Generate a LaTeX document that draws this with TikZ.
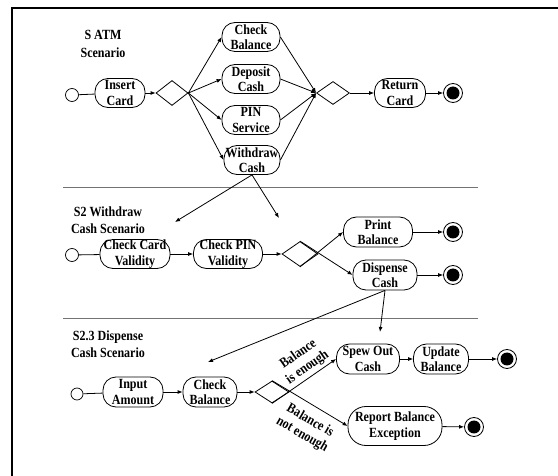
\documentclass[tikz,border=0pt]{standalone}
\usepackage{fontspec}
\newfontfamily\lblfont{Liberation Serif}[FakeStretch=0.86]
\usetikzlibrary{shapes.geometric,arrows.meta}
\begin{document}
\begin{tikzpicture}[x=1pt,y=-1pt,
  every node/.style={font=\lblfont\bfseries\fontsize{14}{15.5}\selectfont, align=center, inner sep=0pt},
  act/.style={draw, line width=0.8pt, rounded corners=13pt, minimum height=29pt},
  dia/.style={draw, line width=0.8pt, diamond},
  startc/.style={draw, line width=0.7pt, circle, minimum size=13pt},
  endc/.style={draw, line width=0.8pt, circle, minimum size=19pt, path picture={\fill (path picture bounding box.center) circle (6.5pt);}},
  ttl/.style={font=\lblfont\bfseries\fontsize{14}{17.5}\selectfont},
  lbl/.style={font=\lblfont\bfseries\fontsize{14}{16}\selectfont},
  flow/.style={line width=0.8pt, -{Latex[length=5pt,width=4pt]}},
  plain/.style={line width=0.8pt},
  sep/.style={draw=black!55, line width=0.8pt}
]
\useasboundingbox (0,0) rectangle (558,476);
\fill[white] (0,0) rectangle (558,476);
\draw[line width=2.5pt] (12,476) -- (12,8) -- (558,8);

% ---------- Section 1 ----------
\node[ttl] (t1) at (103,44) {S ATM\\Scenario};
\node[startc] (s1) at (72,95) {};
\node[act, minimum width=50pt] (insert) at (120,93) {Insert\\Card};
\node[dia, minimum width=32pt, minimum height=25pt] (d1) at (172,93) {};
\node[act, minimum width=58pt] (cb) at (251,37) {Check\\Balance};
\node[act, minimum width=58pt] (dc) at (251,79) {Deposit\\Cash};
\node[act, minimum width=58pt] (ps) at (251,120) {PIN\\Service};
\node[act, minimum width=56pt] (wc) at (252,160) {Withdraw\\Cash};
\node[dia, minimum width=33pt, minimum height=23pt] (d2) at (333,93) {};
\node[act, minimum width=51pt] (rc) at (400,93) {Return\\Card};
\node[endc] (e1) at (453,93) {};

\draw[plain] (s1) -- (insert);
\draw[flow] (insert) -- (d1);
\draw[flow] (d1.east) -- (cb.west);
\draw[flow] (d1.east) -- (dc.west);
\draw[flow] (d1.east) -- (ps.west);
\draw[flow] (d1.east) -- (wc.west);
\draw[flow] (cb.east) -- (d2.west);
\draw[flow] (dc.east) -- (d2.west);
\draw[flow] (ps.east) -- (d2.west);
\draw[flow] (wc.east) -- (d2.west);
\draw[flow] (d2.east) -- (rc.west);
\draw[flow] (rc.east) -- (e1.west);

\draw[sep] (63,187) -- (478,187);
\coordinate (w1) at (175,222);
\coordinate (w2) at (279,218);
\draw[flow] (wc.south) -- (w1);
\draw[flow] (wc.south) -- (w2);

% ---------- Section 2 ----------
\node[ttl] (t2) at (108,220) {S2 Withdraw\\Cash Scenario};
\node[startc] (s2) at (72,255) {};
\node[act, minimum width=70pt] (ccv) at (135,254) {Check Card\\Validity};
\node[act, minimum width=69pt] (cpv) at (228,254) {Check PIN\\Validity};
\node[dia, minimum width=36pt, minimum height=25pt] (d3) at (300,254) {};
\node[act, minimum width=69pt, minimum height=30pt] (pb) at (378,232) {Print\\Balance};
\node[act, minimum width=64pt, minimum height=30pt] (dsc) at (385,275) {Dispense\\Cash};
\node[endc] (e2) at (453,232) {};
\node[endc] (e3) at (453,275) {};

\draw[plain] (s2) -- (ccv);
\draw[flow] (ccv) -- (cpv);
\draw[flow] (cpv) -- (d3);
\draw[flow] (d3.south) -- (pb.west);
\draw[flow] (d3.north) -- (dsc.west);
\draw[flow] (pb) -- (e2);
\draw[flow] (dsc) -- (e3);

\draw[sep] (63,318) -- (478,318);
\coordinate (x1) at (208,362);
\coordinate (x2) at (380,332);
\draw[flow] (dsc.south) -- (x1);
\draw[flow] (dsc.south) -- (x2);

% ---------- Section 3 ----------
\node[ttl] (t3) at (108,344) {S2.3 Dispense\\Cash Scenario};
\node[startc, minimum size=12pt] (s3) at (77,394) {};
\node[act, minimum width=60pt, minimum height=30pt] (ia) at (133,392) {Input\\Amount};
\node[act, minimum width=54pt, minimum height=30pt] (chb) at (210,392) {Check\\Balance};
\node[dia, minimum width=34pt, minimum height=22pt] (d4) at (272,392) {};
\node[act, minimum width=63pt, minimum height=30pt] (soc) at (368,359) {Spew Out\\Cash};
\node[act, minimum width=55pt, minimum height=30pt] (ub) at (441,359) {Update\\Balance};
\node[endc] (e4) at (507,359) {};
\node[act, minimum width=94pt, minimum height=39pt, rounded corners=18pt] (rbe) at (395,426) {Report Balance\\Exception};
\node[endc] (e5) at (474,427) {};

\draw[plain] (s3) -- (ia);
\draw[flow] (ia) -- (chb);
\draw[flow] (chb) -- (d4);
\draw[flow] (d4.south) -- (soc.west);
\draw[flow] (d4.north) -- (rbe.west);
\draw[flow] (soc) -- (ub);
\draw[flow] (ub) -- (e4);
\draw[flow] (rbe) -- (e5);

\node[lbl, rotate=35] (l1) at (303,361) {Balance\\is enough};
\node[lbl, rotate=-30] (l2) at (306,428) {Balance is\\not enough};
\end{tikzpicture}
\end{document}
